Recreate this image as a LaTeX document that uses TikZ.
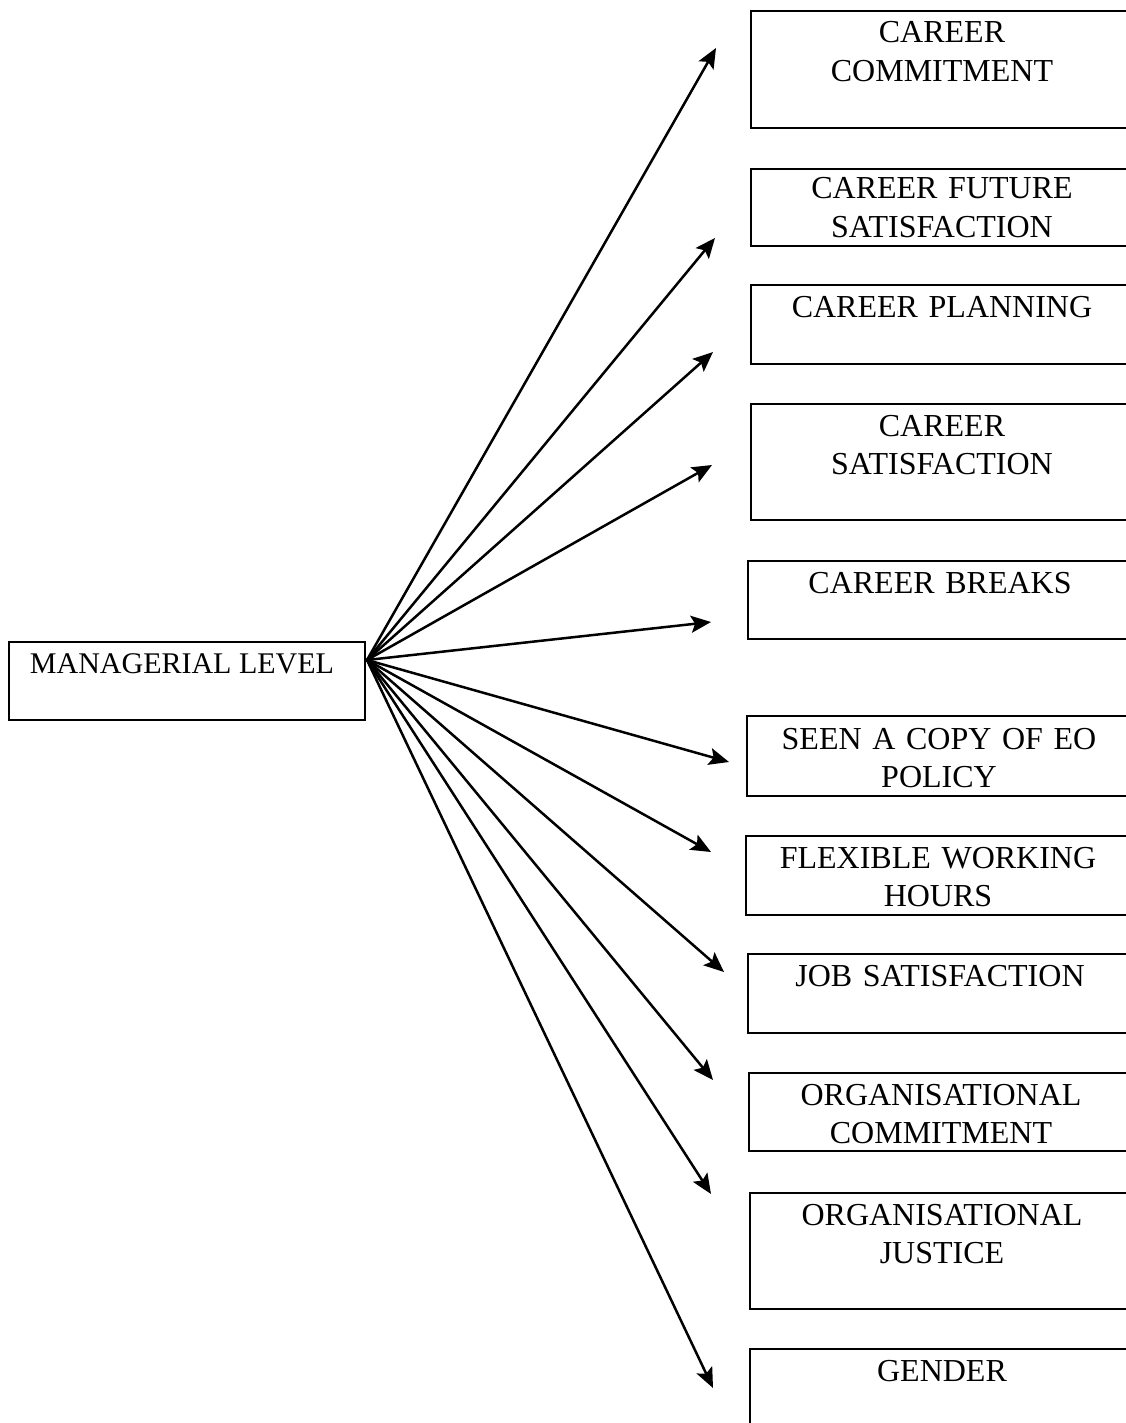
\documentclass[tikz,border=0pt]{standalone}
\usepackage{fontspec}
\setmainfont{Liberation Serif}
\usetikzlibrary{arrows.meta}
\begin{document}
\begin{tikzpicture}[x=1pt,y=-1pt,
  box/.style={draw, line width=2.2pt, rectangle, inner sep=0pt, anchor=north west, minimum width=386pt},
  lbl/.style={anchor=base, inner sep=0pt, text width=380pt, align=center,
    font=\fontsize{32}{38.5}\selectfont},
  link/.style={line width=2.5pt, -{Stealth[length=20pt, width=17pt, inset=4pt]}}]
\useasboundingbox (0,0) rectangle (1126,1423);
\clip (0,0) rectangle (1126,1423);

% source box
\node[draw, line width=2.2pt, rectangle, inner sep=0pt, anchor=north west,
  minimum width=356pt, minimum height=78pt] (src) at (8,641) {};
\node[anchor=base, inner sep=0pt, font=\fontsize{30}{36}\selectfont] (srct) at (182,673) {MANAGERIAL LEVEL};
\coordinate (hub) at (367,660);

% target boxes
\node[box, minimum height=117pt] (b1) at (750,10) {};
\node[lbl] (t1) at (942,43) {CAREER\\COMMITMENT};
\node[box, minimum height=77pt] (b2) at (750,168) {};
\node[lbl] (t2) at (942,199) {CAREER FUTURE\\SATISFACTION};
\node[box, minimum height=79pt] (b3) at (750,284) {};
\node[lbl] (t3) at (942,317) {CAREER PLANNING};
\node[box, minimum height=116pt] (b4) at (750,403) {};
\node[lbl] (t4) at (942,436) {CAREER\\SATISFACTION};
\node[box, minimum height=78pt] (b5) at (747,560) {};
\node[lbl] (t5) at (940,593) {CAREER BREAKS};
\node[box, minimum height=80pt] (b6) at (746,715) {};
\node[lbl] (t6) at (939,749) {SEEN A COPY OF EO\\POLICY};
\node[box, minimum height=79pt] (b7) at (745,835) {};
\node[lbl] (t7) at (938,868) {FLEXIBLE WORKING\\HOURS};
\node[box, minimum height=79pt] (b8) at (747,953) {};
\node[lbl] (t8) at (940,986) {JOB SATISFACTION};
\node[box, minimum height=78pt] (b9) at (748,1072) {};
\node[lbl] (t9) at (941,1105) {ORGANISATIONAL\\COMMITMENT};
\node[box, minimum height=116pt] (b10) at (749,1192) {};
\node[lbl] (t10) at (942,1225) {ORGANISATIONAL\\JUSTICE};
\node[box, minimum height=120pt] (b11) at (749,1348) {};
\node[lbl] (t11) at (942,1381) {GENDER};

% arrow ends in front of the boxes
\coordinate (e1) at (716,48);
\coordinate (e2) at (715,238);
\coordinate (e3) at (713,352);
\coordinate (e4) at (712,465);
\coordinate (e5) at (711,622);
\coordinate (e6) at (729,762);
\coordinate (e7) at (711,852);
\coordinate (e8) at (724,972);
\coordinate (e9) at (713,1080);
\coordinate (e10) at (711,1194);
\coordinate (e11) at (713,1388);

\foreach \i in {1,...,11} {
  \draw[link] (hub) -- (e\i);
}
\end{tikzpicture}
\end{document}
